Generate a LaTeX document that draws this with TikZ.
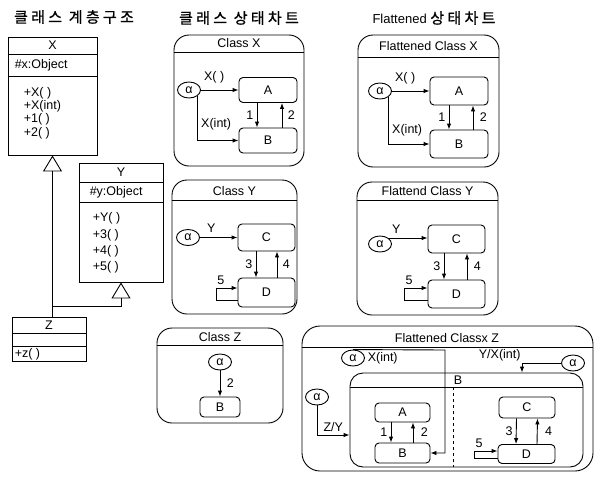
\documentclass[tikz,border=0pt]{standalone}
\usepackage{fontspec}
\setmainfont{Liberation Sans}
\newfontfamily\kofont[LetterSpace=22,FakeBold=1]{Noto Sans CJK KR}
\usetikzlibrary{arrows.meta,positioning,shapes.geometric}

\begin{document}
\begin{tikzpicture}[>={Latex[length=6pt,width=4.5pt]},x=1pt,y=-1pt,line width=0.9pt,font=\fontsize{12.5}{14}\selectfont]
\tikzstyle{cls}=[draw,inner sep=0]
\tikzstyle{chart}=[draw,rounded corners=15pt,inner sep=0]
\tikzstyle{st}=[draw,rounded corners=4pt,inner sep=0,minimum width=57,minimum height=27]
\tikzstyle{ini}=[draw,ellipse,inner sep=0,minimum width=23,minimum height=16]
\tikzstyle{gen}=[-{Triangle[open,length=16pt,width=19pt]}]
\tikzstyle{hd}=[font=\kofont\fontsize{15}{17}\selectfont]
\useasboundingbox (0,0) rectangle (596,479);

% headings
\node[hd] (h1) at (74,17) {클래스 계층구조};
\node[hd] (h2) at (239,18) {클래스 상태차트};
\node (h3) at (434,18) {\fontsize{13}{15}\selectfont Flattened {\kofont\fontsize{15}{17}\selectfont 상태차트}};

% class hierarchy
\node[cls,minimum width=89,minimum height=118] (X) at (52.5,96) {};
\node (Xname) at (52.5,45.5) {X};
\draw (X.west |- 0,54) -- (X.east |- 0,54);
\node[anchor=west] (Xattr) at (11,65) {\#x:Object};
\draw (X.west |- 0,76) -- (X.east |- 0,76);
\node[anchor=west,align=left,font=\fontsize{12.5}{13.3}\selectfont] (Xops) at (20,113) {+X( )\\+X(int)\\+1( )\\+2( )};

\node[cls,minimum width=84,minimum height=119] (Y) at (121,222.5) {};
\node (Yname) at (121,172) {Y};
\draw (Y.west |- 0,182) -- (Y.east |- 0,182);
\node[anchor=west] (Yattr) at (86,192) {\#y:Object};
\draw (Y.west |- 0,202) -- (Y.east |- 0,202);
\node[anchor=west,align=left,font=\fontsize{12.5}{16.2}\selectfont] (Yops) at (89,243) {+Y( )\\+3( )\\+4( )\\+5( )};

\node[cls,minimum width=74,minimum height=44] (Z) at (49,339) {};
\node (Zname) at (49,325.5) {Z};
\draw (Z.west |- 0,333) -- (Z.east |- 0,333);
\draw (Z.west |- 0,346) -- (Z.east |- 0,346);
\node[anchor=west] (Zops) at (11,354) {+z( )};

\draw[gen] (Z.north -| X.south) -- (X.south);
\draw[gen] (Z.north -| X.south) -- ++(0,-10) -| (Y.south);

% class X
\node[chart,minimum width=130,minimum height=131] (chX) at (239,100.5) {};
\node (tX) at (239,43) {Class X};
\draw (chX.west |- 0,52) -- (chX.east |- 0,52);
\node[ini] (ax) at (189,90) {α};
\node[st,minimum width=58,minimum height=25] (Ax) at (268,90) {A};
\node[st,minimum width=58,minimum height=25] (Bx) at (268,140.5) {B};
\draw[->] (ax) -- (Ax) node[pos=.35,above=3pt] {X( )};
\draw[->] (ax.south east) |- (Bx.west) node[pos=.32,right=0pt] {X(int)};
\draw[->] ([xshift=-11]Ax.south) -- ([xshift=-11]Bx.north) node[midway,left=0pt] {1};
\draw[->] ([xshift=14]Bx.north) -- ([xshift=14]Ax.south) node[midway,right=2pt] {2};

% class Y
\node[chart,minimum width=125,minimum height=134] (chY) at (234.5,247) {};
\node (tY) at (234.5,191.5) {Class Y};
\draw (chY.west |- 0,200) -- (chY.east |- 0,200);
\node[ini] (ay) at (188,237.5) {α};
\node[st] (Cy) at (266.5,237.5) {C};
\node[st,minimum height=29] (Dy) at (266.5,292.5) {D};
\draw[->] (ay) -- (Cy) node[pos=.3,above=1pt] {Y};
\draw[->] ([xshift=-10.5]Cy.south) -- ([xshift=-10.5]Dy.north) node[midway,left=0pt] {3};
\draw[->] ([xshift=10.5]Dy.north) -- ([xshift=10.5]Cy.south) node[midway,right=2pt] {4};
\draw[->] ([yshift=-7.5]Dy.west) -- ++(-21,0) |- ([yshift=4.5]Dy.west) node[pos=.6,above=0pt] {5};

% class Z
\node[chart,minimum width=126,minimum height=95] (chZ) at (220,375.5) {};
\node (tZ) at (220,337.5) {Class Z};
\draw (chZ.west |- 0,345) -- (chZ.east |- 0,345);
\node[ini] (az) at (220,362) {α};
\node[st,minimum width=40,minimum height=20] (Bz) at (220,407) {B};
\draw[->] (az) -- (Bz) node[midway,right=3pt] {2};

% flattened X
\node[chart,minimum width=141,minimum height=132] (fchX) at (428.5,101) {};
\node (tfX) at (428.5,46) {Flattened Class X};
\draw (fchX.west |- 0,57) -- (fchX.east |- 0,57);
\node[ini] (fax) at (380,91) {α};
\node[st,minimum width=58,minimum height=28] (fAx) at (459,91) {A};
\node[st,minimum width=58,minimum height=28] (fBx) at (459,144) {B};
\draw[->] (fax) -- (fAx) node[pos=.35,above=3pt] {X( )};
\draw[->] (fax.south east) |- (fBx.west) node[pos=.35,right=0pt] {X(int)};
\draw[->] ([xshift=-10]fAx.south) -- ([xshift=-10]fBx.north) node[midway,left=0pt] {1};
\draw[->] ([xshift=14]fBx.north) -- ([xshift=14]fAx.south) node[midway,right=3pt] {2};

% flattened Y
\node[chart,minimum width=141,minimum height=133] (fchY) at (427.5,248.5) {};
\node (tfY) at (427.5,191.5) {Flattend Class Y};
\draw (fchY.west |- 0,200) -- (fchY.east |- 0,200);
\node[ini] (fay) at (380,244) {α};
\node[st,minimum height=28] (fCy) at (456.5,239) {C};
\node[st,minimum height=28] (fDy) at (456.5,294) {D};
\draw[->] (fay.north east) -- (fay.north east -| fCy.west) node[pos=.2,above=1pt] {Y};
\draw[->] ([xshift=-12.5]fCy.south) -- ([xshift=-12.5]fDy.north) node[midway,left=0pt] {3};
\draw[->] ([xshift=10.5]fDy.north) -- ([xshift=10.5]fCy.south) node[midway,right=3pt] {4};
\draw[->] ([yshift=-6]fDy.west) -- ++(-23,0) |- ([yshift=6]fDy.west) node[pos=.6,above=0pt] {5};

% flattened Z
\node[chart,rounded corners=18pt,minimum width=291,minimum height=145] (fchZ) at (447.5,398.5) {};
\node (tfZ) at (447,338) {Flattened Classx Z};
\draw (fchZ.west |- 0,347) -- (fchZ.east |- 0,347);
\node[chart,rounded corners=13pt,minimum width=233,minimum height=94] (fS) at (466.5,420) {};
\node (tS) at (458,380) {B};
\draw (fS.west |- 0,387) -- (fS.east |- 0,387);
\draw[dashed,line width=0.6pt] (453,387) -- (fS.south -| 453,0);
\node[st,minimum width=55,minimum height=19] (fA) at (402.5,412.5) {A};
\node[st,minimum width=55,minimum height=20] (fB) at (402.5,453) {B};
\node[st,minimum width=56,minimum height=21] (fC) at (527,407.5) {C};
\node[st,minimum width=57,minimum height=19] (fD) at (526.5,454) {D};
\draw[->] ([xshift=-11.5]fA.south) -- ([xshift=-11.5]fB.north) node[midway,left=0pt] {1};
\draw[->] ([xshift=10.5]fB.north) -- ([xshift=10.5]fA.south) node[midway,right=4pt] {2};
\draw[->] ([xshift=-10.5]fC.south) -- ([xshift=-10.5]fD.north) node[midway,left=0pt] {3};
\draw[->] ([xshift=10.5]fD.north) -- ([xshift=10.5]fC.south) node[midway,right=4pt] {4};
\draw[->] ([yshift=-4]fD.west) -- ++(-23,0) |- ([yshift=3]fD.west) node[pos=.6,above=0pt] {5};
\node[ini] (fa1) at (353,358) {α};
\node[anchor=west] (l1) at (364,358) {X(int)};
\coordinate (xturn) at (445,350);
\draw[->] (fa1.north) -- (xturn) |- (fB.east);
\node[ini] (fa2) at (317,397) {α};
\draw[->] (fa2.south) |- ([yshift=-15]fS.west) node[pos=.75,above=0pt] {Z/Y};
\node[ini] (fa3) at (573,363) {α};
\draw[->] (fa3.west) -| ([xshift=55.5]fS.north) node[pos=.5,anchor=south east,inner sep=1pt] {Y/X(int)};
\end{tikzpicture}
\end{document}
